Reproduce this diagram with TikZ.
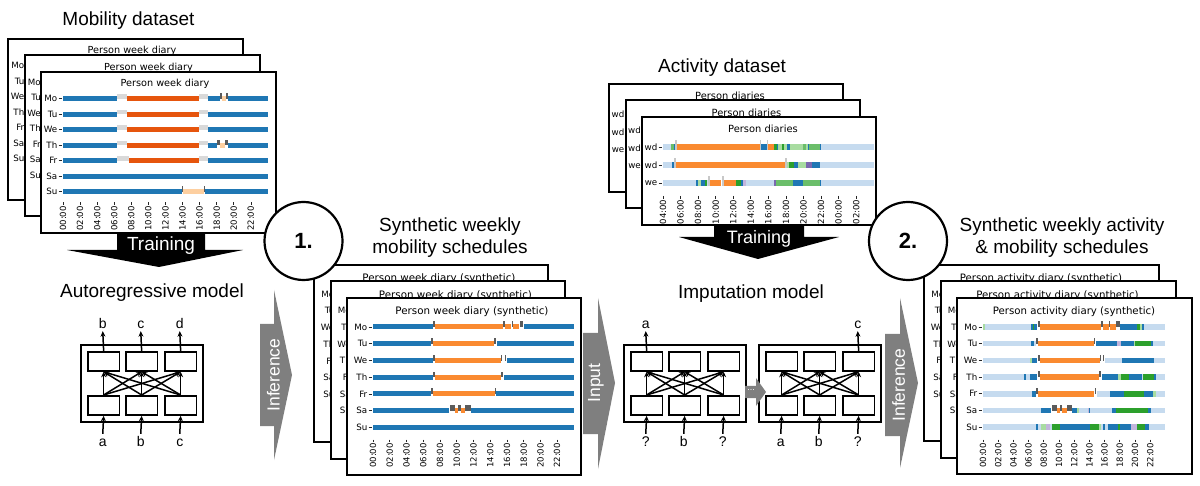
\documentclass[tikz,border=0pt]{standalone}
\usepackage{fontspec}
\setmainfont{Liberation Sans}
\newfontfamily\chartfont{DejaVu Sans}
\usetikzlibrary{arrows.meta}
\definecolor{cblue}{HTML}{1F77B4}
\definecolor{cred}{HTML}{E6550D}
\definecolor{corange}{HTML}{FA8A30}
\definecolor{cgap}{HTML}{D9D9D9}
\definecolor{clor}{HTML}{FDCFA0}
\definecolor{cmark}{HTML}{5B5B5B}
\definecolor{clblue}{HTML}{C6DBEF}
\definecolor{cgreen}{HTML}{2CA02C}
\definecolor{cmgreen}{HTML}{6BBE6A}
\definecolor{clgreen}{HTML}{A8DCA1}
\definecolor{cpurple}{HTML}{7A68B0}
\definecolor{clav}{HTML}{C2B5DC}
\definecolor{amark}{HTML}{C8C8C8}
\definecolor{garrow}{HTML}{7F7F7F}

\newcommand\barseg[4]{\fill[#4] ({\cbx+(#2-\chz)*\cbs},{\cry+(#1)*\crs-\cbt/2}) rectangle ({\cbx+(#3-\chz)*\cbs},{\cry+(#1)*\crs+\cbt/2});}
\newcommand\darkmark[3]{\fill[cmark] ({\cbx+(#2-\chz)*\cbs},{\cry+(#1)*\crs-\cbt/2-3}) rectangle ({\cbx+(#3-\chz)*\cbs},{\cry+(#1)*\crs+0.3});}
\newcommand\gapmark[3]{\fill[cgap] ({\cbx+(#2-\chz)*\cbs},{\cry+(#1)*\crs-\cbt/2-2}) rectangle ({\cbx+(#3-\chz)*\cbs},{\cry+(#1)*\crs+0.3});}
\newcommand\lightmark[3]{\fill[amark] ({\cbx+(#2-\chz)*\cbs},{\cry+(#1)*\crs-7}) rectangle ({\cbx+(#3-\chz)*\cbs},{\cry+(#1)*\crs+3});}

\newcommand\dayaxis[2]{\foreach \dy [count=\i from 0] in {#2}{%
  \node[daylab] (#1d\i) at ({\cbx-5.5},{\cry+\i*\crs}) {\dy};
  \draw[tk] ({\cbx-4.5},{\cry+\i*\crs}) -- ({\cbx-1.5},{\cry+\i*\crs});}}
\newcommand\timeaxis[3]{\foreach \lab [count=\kk from 0] in {#3}{%
  \draw[tk] ({\cbx+2*\kk*\cbs},{#2-3.5}) -- ({\cbx+2*\kk*\cbs},{#2-0.8});
  \node[ticklab] (#1x\kk) at ({\cbx+2*\kk*\cbs},{#2}) {\lab:00};}}

% Mobility dataset chart
\newcommand\chartMD[1]{%
 \draw[sheet] (41,72) rectangle (276,233);
 \node[ctitle,font=\chartfont\fontsize{9.7}{11}\selectfont] (#1t) at (165,84) {Person week diary};
 \dayaxis{#1}{Mo,Tu,We,Th,Fr,Sa,Su}
 \timeaxis{#1}{206}{00,02,04,06,08,10,12,14,16,18,20,22}
 \foreach \rr/\ha/\hb/\cc in {0/0/6.3/cblue,0/7.5/15.9/cred,0/17/18.38/cblue,0/18.65/19.05/clor,0/19.35/24/cblue,
   1/0/6.3/cblue,1/7.5/15.9/cred,1/17/24/cblue,
   2/0/6.3/cblue,2/7.5/15.9/cred,2/17/24/cblue,
   3/0/6.3/cblue,3/7.5/15.9/cred,3/17/18.03/cblue,3/18.38/18.97/clor,3/19.32/24/cblue,
   4/0/6.3/cblue,4/7.7/15.9/cred,4/17/24/cblue,
   5/0/24/cblue,
   6/0/13.9/cblue,6/14.0/16.55/clor,6/16.65/24/cblue}{\barseg{\rr}{\ha}{\hb}{\cc}}
 \foreach \rr/\ha/\hb in {0/6.3/7.5,0/15.9/17,1/6.3/7.5,1/15.9/17,2/6.3/7.5,2/15.9/17,3/6.3/7.5,3/15.9/17,4/6.3/7.7,4/15.9/17}{\gapmark{\rr}{\ha}{\hb}}
 \foreach \rr/\ha/\hb in {0/18.38/18.65,0/19.05/19.35,3/18.03/18.38,3/18.97/19.32,6/13.9/14.0,6/16.55/16.65}{\darkmark{\rr}{\ha}{\hb}}
}

% Synthetic mobility chart
\newcommand\chartSM[1]{%
 \draw[sheet] (347,298) rectangle (581,475);
 \node[ctitle,font=\chartfont\fontsize{10.3}{12}\selectfont] (#1t) at (472,312) {Person week diary (synthetic)};
 \dayaxis{#1}{Mo,Tu,We,Th,Fr,Sa,Su}
 \timeaxis{#1}{443}{00,02,04,06,08,10,12,14,16,18,20,22}
 \foreach \rr/\ha/\hb/\cc in {0/0/7.2/cblue,0/7.45/15.5/corange,0/15.8/16.5/corange,0/16.7/17.5/corange,0/18/24/cblue,
   1/0/6.9/cblue,1/7.15/14.5/corange,1/14.8/24/cblue,
   2/0/7.2/cblue,2/7.45/15.3/corange,2/16/24/cblue,
   3/0/7.2/cblue,3/7.45/15.3/corange,3/15.6/24/cblue,
   4/0/6.9/cblue,4/7.15/14.6/corange,4/14.75/24/cblue,
   5/0/9.1/cblue,5/9.8/10.2/corange,5/10.5/11.05/corange,5/11.7/24/cblue,
   6/0/24/cblue}{\barseg{\rr}{\ha}{\hb}{\cc}}
 \foreach \rr/\ha/\hb in {0/7.2/7.45,0/15.5/15.75,0/16.55/16.65,0/17.55/17.95,
   1/6.9/7.15,1/14.5/14.75,2/7.2/7.45,2/15.3/15.45,2/15.75/15.9,
   3/7.2/7.45,3/15.3/15.55,4/6.9/7.15,4/14.6/14.7,
   5/9.15/9.8,5/10.2/10.5,5/11.05/11.65}{\darkmark{\rr}{\ha}{\hb}}
}

% Activity dataset chart
\newcommand\chartAD[1]{%
 \draw[sheet] (642,117) rectangle (876,225);
 \node[ctitle,font=\chartfont\fontsize{9.9}{11}\selectfont] (#1t) at (763,129) {Person diaries};
 \dayaxis{#1}{wd,wd,we}
 \timeaxis{#1}{199.5}{04,06,08,10,12,14,16,18,20,22,00,02}
 \foreach \rr/\ha/\hb/\cc in {0/4/4.95/clblue,0/4.95/5.2/cmgreen,0/5.2/5.35/cblue,0/5.55/15.0/corange,0/15.2/15.85/cblue,
   0/16.0/16.6/corange,0/16.6/17.0/cgreen,0/17.0/17.1/cblue,0/17.1/17.6/clgreen,0/17.6/17.75/cgreen,0/17.75/18.1/clgreen,
   0/18.1/18.5/cblue,0/18.5/20.0/clgreen,0/20.0/20.3/cmgreen,0/20.3/20.5/clgreen,0/20.5/20.6/cblue,0/20.6/21.85/cmgreen,
   0/21.85/22.0/cblue,0/22/28/clblue,
   1/4/5.0/clblue,1/5.0/5.2/cblue,1/5.45/17.85/corange,1/18.1/18.4/clgreen,1/18.4/18.9/cgreen,1/18.9/19.35/cblue,
   1/19.35/20.3/clgreen,1/20.3/21.0/cpurple,1/21.0/21.9/cblue,1/21.9/28/clblue,
   2/4/7.8/clblue,2/7.8/7.95/cblue,2/7.95/8.3/clgreen,2/8.3/8.8/cblue,2/8.8/9.0/cgreen,2/9.0/9.1/clblue,
   2/9.3/10.65/corange,2/11.0/12.3/corange,2/12.3/12.9/cgreen,2/12.9/13.1/cblue,2/13.1/13.4/clav,2/13.4/16.6/clblue,
   2/16.6/16.85/cpurple,2/16.85/18.8/cmgreen,2/18.8/20.0/cblue,2/20.0/21.85/cmgreen,2/21.85/22.0/cblue,2/22/28/clblue}{\barseg{\rr}{\ha}{\hb}{\cc}}
 \foreach \rr/\ha/\hb in {0/5.38/5.55,0/15.0/15.2,0/15.85/15.98,1/5.28/5.45,1/17.85/18.1,2/9.1/9.3,2/10.7/10.95}{\lightmark{\rr}{\ha}{\hb}}
}

% Synthetic activity chart
\newcommand\chartSA[1]{%
 \draw[sheet] (957,298) rectangle (1192,474);
 \node[ctitle,font=\chartfont\fontsize{10.2}{12}\selectfont] (#1t) at (1074,312) {Person activity diary (synthetic)};
 \dayaxis{#1}{Mo,Tu,We,Th,Fr,Sa,Su}
 \timeaxis{#1}{443}{00,02,04,06,08,10,12,14,16,18,20,22}
 \foreach \rr/\ha/\hb/\cc in {0/0/0.3/clgreen,0/0.3/6.3/clblue,0/6.3/6.6/cblue,0/6.6/6.75/cgreen,0/6.75/7.1/cblue,
   0/7.45/15.5/corange,0/15.85/16.55/corange,0/16.75/17.45/corange,0/18.0/20.2/cblue,0/20.2/20.7/cgreen,
   0/20.7/20.9/clgreen,0/20.9/21.15/cblue,0/21.15/24/clblue,
   1/0/6.3/clblue,1/6.3/6.75/cblue,1/6.75/7.0/clblue,1/7.25/14.55/corange,1/14.85/17.6/cblue,1/17.6/18.15/clav,
   1/18.15/19.9/cblue,1/19.9/20.05/clgreen,1/20.05/22.1/cgreen,1/22.1/22.4/cblue,1/22.4/24/clblue,
   2/0/6.2/clblue,2/6.2/6.5/clgreen,2/6.5/7.1/cblue,2/7.45/15.35/corange,2/16.05/18.3/clblue,2/18.3/22.45/cblue,2/22.45/24/clblue,
   3/0/5.45/clblue,3/5.45/5.7/cblue,3/5.7/6.15/clblue,3/6.15/7.1/cblue,3/7.45/15.25/corange,3/15.6/17.7/cblue,
   3/17.7/18.15/clgreen,3/18.15/19.15/cgreen,3/19.15/20.9/cblue,3/20.9/21.1/clblue,3/21.1/22.55/cgreen,3/22.55/22.7/cblue,3/22.7/24/clblue,
   4/0/6.5/clblue,4/6.5/6.95/cblue,4/7.3/14.65/corange,4/15.0/16.65/clblue,4/16.65/18.5/cblue,4/18.5/21.2/cgreen,
   4/21.2/22.35/cblue,4/22.35/22.8/clgreen,4/22.8/24/clblue,
   5/0/7.65/clblue,5/7.65/8.95/cblue,5/9.8/10.1/corange,5/10.45/11.05/corange,5/11.65/12.35/cblue,5/12.35/12.6/clgreen,
   5/12.6/13.75/clblue,5/13.75/14.0/clav,5/14.0/14.1/cblue,5/14.1/16.95/clblue,5/16.95/17.55/cblue,5/17.55/21.65/cgreen,
   5/21.65/22.1/cblue,5/22.1/24/clblue,
   6/0/7.0/clblue,6/7.0/7.3/cblue,6/7.3/7.65/clblue,6/7.65/8.3/clgreen,6/8.3/8.8/clav,6/8.8/9.1/clblue,6/9.1/10.1/cgreen,
   6/10.1/14.05/cblue,6/14.05/15.2/cgreen,6/15.2/15.5/clgreen,6/15.5/15.8/clblue,6/15.8/16.0/cblue,6/16.0/16.4/clblue,
   6/16.4/17.7/cblue,6/17.7/18.0/cgreen,6/18.0/19.5/cblue,6/19.5/20.25/clav,6/20.25/21.35/cgreen,6/21.35/21.8/cblue,6/21.8/24/clblue}{\barseg{\rr}{\ha}{\hb}{\cc}}
 \foreach \rr/\ha/\hb in {0/7.2/7.45,0/15.5/15.8,0/16.6/16.75,0/17.5/18.0,1/7.0/7.25,1/14.55/14.8,
   2/7.2/7.45,2/15.35/15.5,2/15.8/15.95,3/7.2/7.45,3/15.25/15.5,4/7.0/7.25,4/14.7/14.8,
   5/9.1/9.75,5/10.15/10.4,5/11.1/11.65}{\darkmark{\rr}{\ha}{\hb}}
}

% Network of 2x3 boxes
\newcommand\netw[6]{%
 \node[outerbox,anchor=north west] (#1) at (#2,#3) {};
 \foreach \j/\ox in {1/7,2/45,3/84}{%
  \node[nbox,anchor=north west] (#1t\j) at ({#2+\ox},{#3+7}) {};
  \node[nbox,anchor=north west] (#1b\j) at ({#2+\ox},{#3+51}) {};}
 \node[nlab] (#1i1) at ({#2+22.75},{#3+102}) {#4};
 \node[nlab] (#1i2) at ({#2+60.75},{#3+102}) {#5};
 \node[nlab] (#1i3) at ({#2+99.75},{#3+102}) {#6};
 \foreach \j in {1,2,3}{\draw[arr] (#1i\j.north) -- (#1b\j.south);}
 \foreach \i in {1,2,3}{\foreach \j in {1,2,3}{\draw[arr] (#1b\i.north) -- (#1t\j.south);}}
}

\begin{document}
\begin{tikzpicture}[x=1pt,y=-1pt,
 sheet/.style={draw=black,line width=2pt,fill=white},
 ctitle/.style={inner sep=0pt},
 daylab/.style={anchor=east,inner sep=0pt,font=\chartfont\fontsize{8.7}{9}\selectfont},
 ticklab/.style={rotate=90,anchor=east,inner sep=0pt,font=\chartfont\fontsize{8.5}{9}\selectfont},
 tk/.style={line width=0.7pt,black!85},
 ttl/.style={font=\fontsize{19}{22}\selectfont,anchor=base,inner sep=0pt},
 outerbox/.style={draw,line width=1.9pt,minimum width=122pt,minimum height=77pt,inner sep=0pt},
 nbox/.style={draw,line width=1.8pt,minimum width=31.5pt,minimum height=19pt,inner sep=0pt},
 nlab/.style={font=\fontsize{14}{14}\selectfont,anchor=base,text height=10pt,text depth=0pt,inner sep=2pt},
 arr/.style={line width=1.5pt,-{Stealth[length=5.5pt,width=5pt]}},
 gtext/.style={text=white,rotate=90,font=\fontsize{17.5}{17.5}\selectfont,inner sep=0pt},
 numc/.style={circle,draw,line width=2.2pt,fill=white,minimum size=78pt,inner sep=0pt,font=\bfseries\fontsize{22}{22}\selectfont},
 wtext/.style={text=white,font=\fontsize{19}{19}\selectfont,anchor=base,inner sep=0pt}]
\useasboundingbox (0,0) rectangle (1200,486);

% ---------------- Mobility dataset
\node[ttl] (mdtitle) at (128.5,26) {Mobility dataset};
\def\cbx{63}\def\cbs{8.54}\def\cry{98.5}\def\crs{15.55}\def\cbt{5}\def\chz{0}
\foreach \sh in {2,1,0}{\begin{scope}[shift={({-16.5*\sh},{-16.5*\sh})}]\chartMD{md\sh}\end{scope}}
\fill[black] (117,234) -- (205,234) -- (205,250) -- (243,250) -- (159,267) -- (67,250) -- (117,250) -- cycle;
\node[wtext] (train1) at (161,251) {Training};

% ---------------- Autoregressive model
\node[ttl] (artitle) at (152,298) {Autoregressive model};
\netw{ar}{80}{344}{a}{b}{c}
\node[nlab] (aro1) at (102.75,329) {b};
\node[nlab] (aro2) at (140.75,329) {c};
\node[nlab] (aro3) at (179.75,329) {d};
\draw[arr] (art1.north) -- (aro1.south);
\draw[arr] (art2.north) -- (aro2.south);
\draw[arr] (art3.north) -- (aro3.south);

% Inference arrow 1
\fill[garrow] (260,324) -- (274,324) -- (274,290) -- (292,375) -- (274,460) -- (274,426) -- (260,426) -- cycle;
\node[gtext] (inf1) at (273.5,375) {Inference};

% ---------------- Synthetic mobility
\def\cbx{373}\def\cbs{8.37}\def\cry{327}\def\crs{16.72}\def\cbt{5}\def\chz{0}
\foreach \sh in {2,1,0}{\begin{scope}[shift={({-16.5*\sh},{-16.5*\sh})}]\chartSM{sm\sh}\end{scope}}
\node[numc] (c1) at (303.5,241) {1.};
\node[ttl] (smt1) at (450,232) {Synthetic weekly};
\node[ttl] (smt2) at (450,254) {mobility schedules};

% Input arrow
\fill[garrow] (583,333) -- (598,333) -- (598,298) -- (615,383) -- (598,469) -- (598,434) -- (583,434) -- cycle;
\node[gtext] (inp) at (596,383) {Input};

% ---------------- Activity dataset
\node[ttl] (adtitle) at (722,73) {Activity dataset};
\def\cbx{663}\def\cbs{8.78}\def\cry{147}\def\crs{18}\def\cbt{6.5}\def\chz{4}
\foreach \sh in {2,1,0}{\begin{scope}[shift={({-16.5*\sh},{-16.5*\sh})}]\chartAD{ad\sh}\end{scope}}
\fill[black] (714,226) -- (804,226) -- (804,237) -- (839,237) -- (758,259) -- (679,237) -- (714,237) -- cycle;
\node[wtext,font=\fontsize{18}{18}\selectfont] (train2) at (759,243.5) {Training};

% ---------------- Imputation model
\node[ttl] (imtitle) at (751,298.5) {Imputation model};
\netw{ia}{623}{344}{?}{b}{?}
\netw{ib}{758}{344}{a}{b}{?}
\node[nlab] (iao1) at (645.75,329) {a};
\node[nlab] (ibo3) at (857.75,329) {c};
\draw[arr] (iat1.north) -- (iao1.south);
\draw[arr] (ibt3.north) -- (ibo3.south);
\fill[garrow] (745,386) -- (756,386) -- (756,378) -- (766,392) -- (756,406) -- (756,398) -- (745,398) -- cycle;
\node[text=white,font=\fontsize{9}{9}\selectfont,inner sep=0pt] (dots) at (751,390) {...};

% Inference arrow 2
\fill[garrow] (885,334) -- (900,334) -- (900,298) -- (918,383) -- (900,468) -- (900,436) -- (885,436) -- cycle;
\node[gtext] (inf2) at (898.5,385) {Inference};

% ---------------- Synthetic activity
\def\cbx{983}\def\cbs{7.6}\def\cry{327}\def\crs{16.7}\def\cbt{5.5}\def\chz{0}
\foreach \sh in {2,1,0}{\begin{scope}[shift={({-16.5*\sh},{-16.5*\sh})}]\chartSA{sa\sh}\end{scope}}
\node[numc] (c2) at (908,241) {2.};
\node[ttl] (sat1) at (1062,232) {Synthetic weekly activity};
\node[ttl] (sat2) at (1062,254) {\& mobility schedules};
\end{tikzpicture}
\end{document}
